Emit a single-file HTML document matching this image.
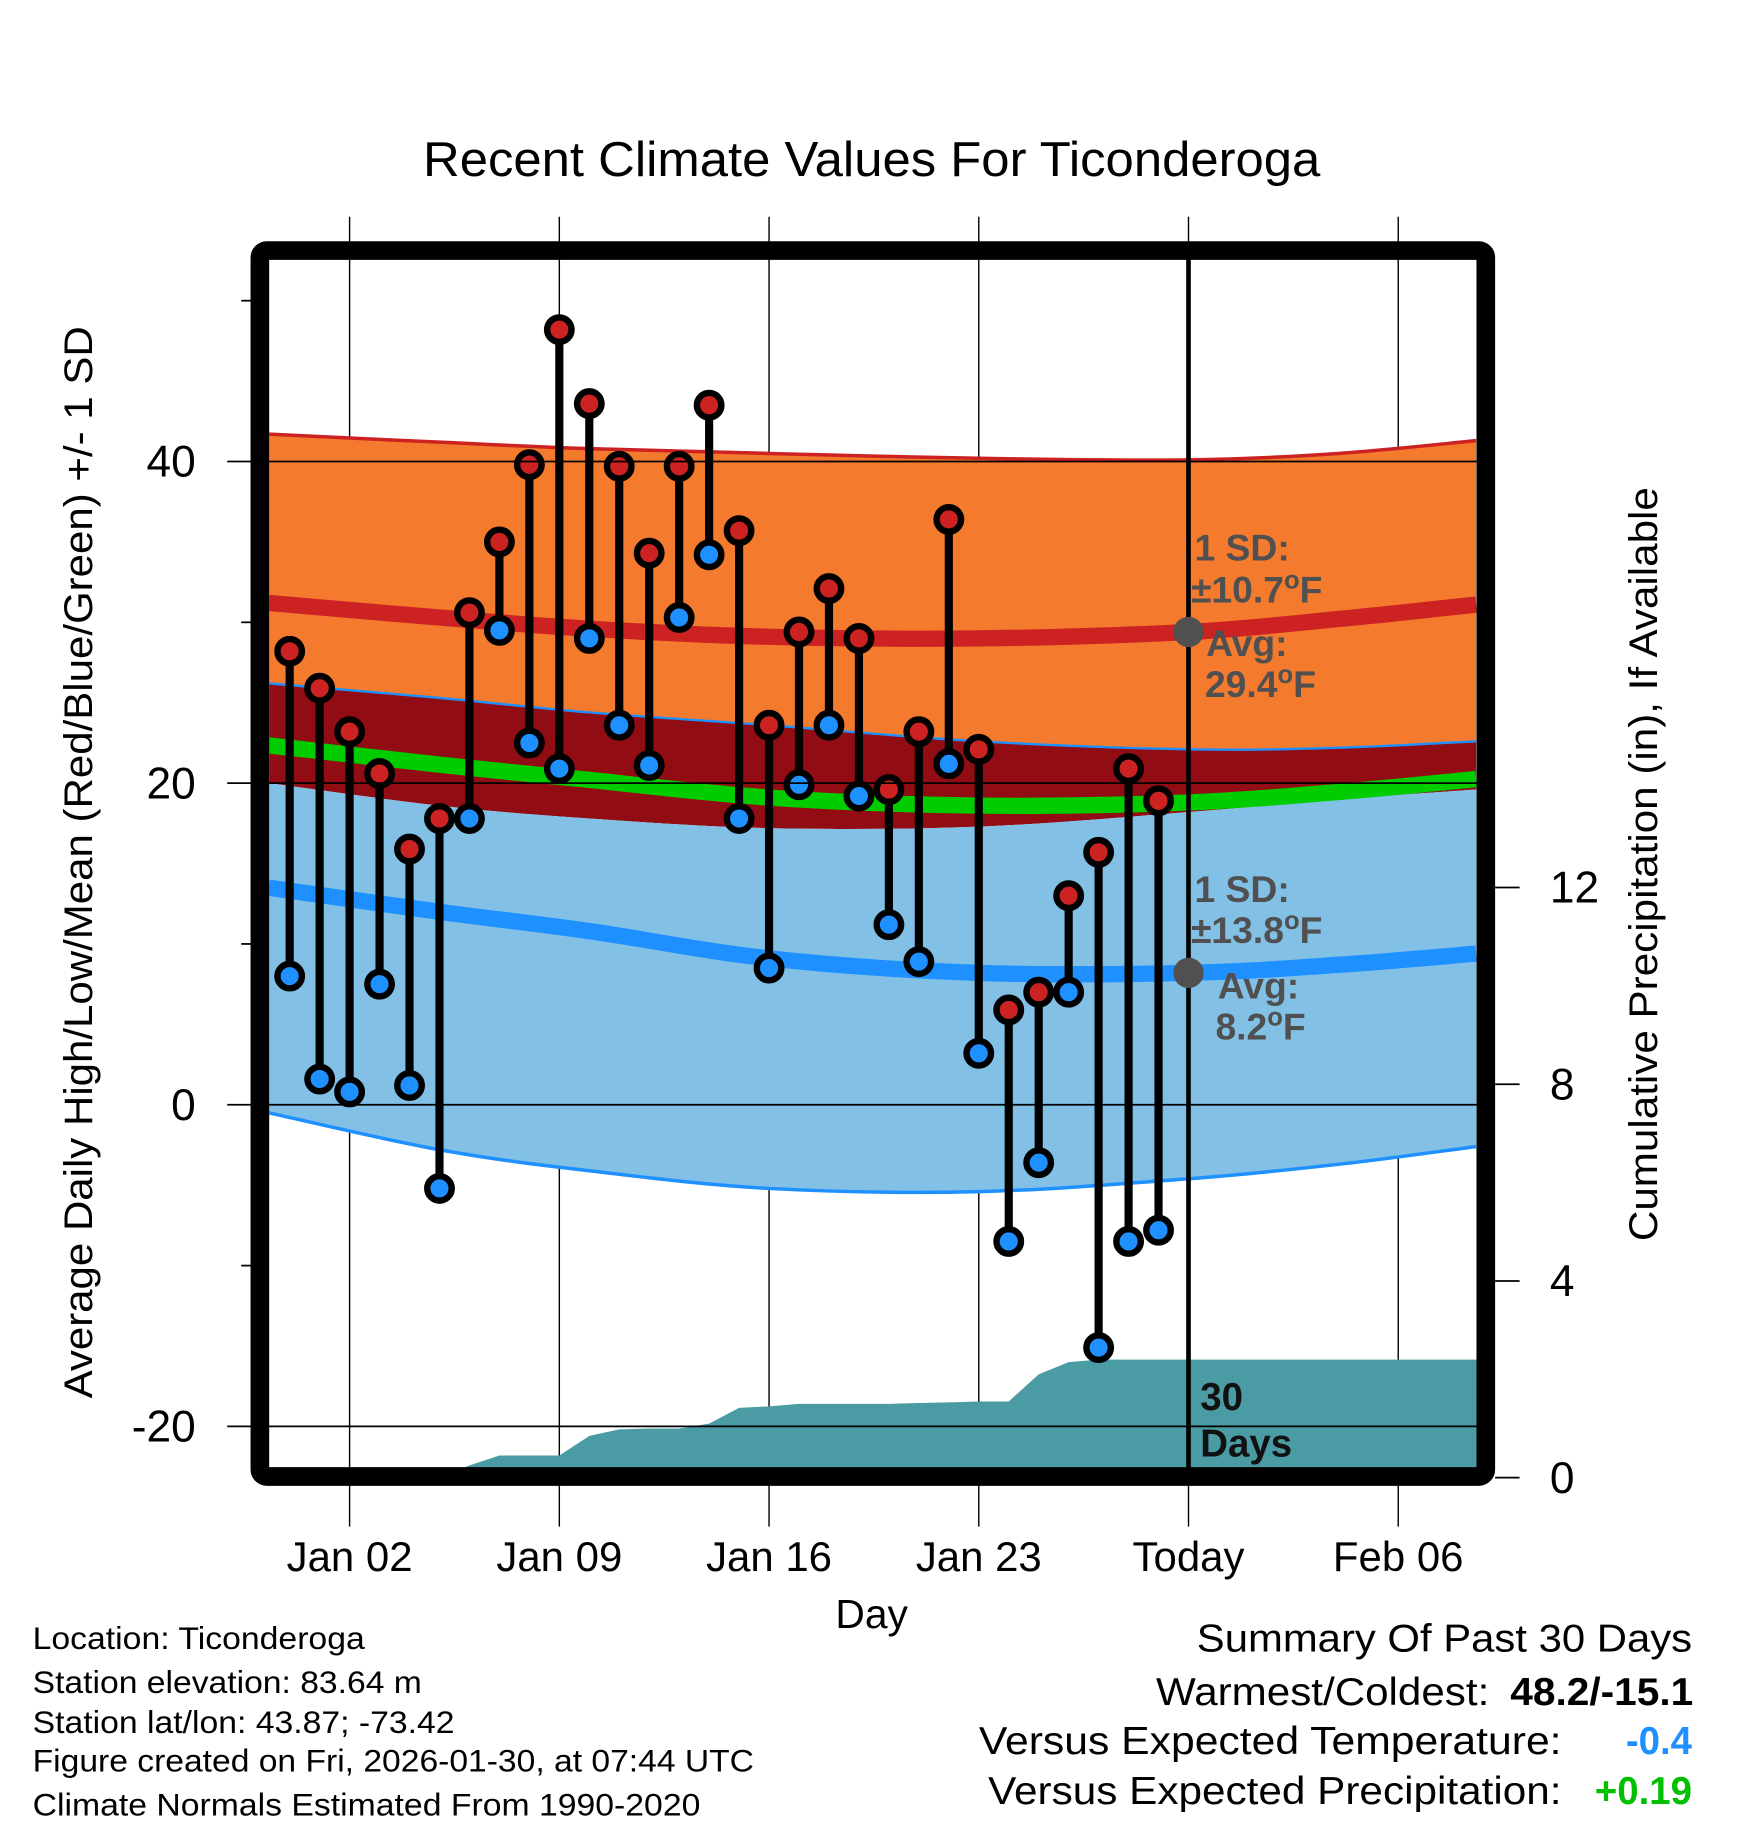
<!DOCTYPE html>
<html><head><meta charset="utf-8"><style>
html,body{margin:0;padding:0;background:#fff;}
svg{display:block;font-family:"Liberation Sans",Arial,sans-serif;}
</style></head><body>
<svg id="chart" width="1748" height="1828" viewBox="0 0 1500 1568.6" xmlns="http://www.w3.org/2000/svg">
<defs><clipPath id="plotclip"><rect x="231" y="222" width="1036" height="1038"/></clipPath></defs>
<rect width="1500" height="1568.6" fill="#fff"/>
<text x="363" y="151" font-size="42" textLength="770" lengthAdjust="spacingAndGlyphs">Recent Climate Values For Ticonderoga</text>
<g id="gx"></g>
<g id="plot" clip-path="url(#plotclip)"></g>
<g id="marks"></g>
<rect x="223" y="215" width="1052" height="1052" rx="6" fill="none" stroke="#000" stroke-width="16"/>
<g id="axes"></g>
<text transform="translate(79,1200) rotate(-90)" font-size="34" textLength="920" lengthAdjust="spacingAndGlyphs">Average Daily High/Low/Mean (Red/Blue/Green) +/- 1 SD</text>
<text transform="translate(1422,1065) rotate(-90)" font-size="34" textLength="647" lengthAdjust="spacingAndGlyphs">Cumulative Precipitation (in), If Available</text>
<text x="748" y="1397" font-size="35" text-anchor="middle">Day</text>
<g font-size="27">
<text x="28" y="1415" textLength="285" lengthAdjust="spacingAndGlyphs">Location: Ticonderoga</text>
<text x="28" y="1453" textLength="334" lengthAdjust="spacingAndGlyphs">Station elevation: 83.64 m</text>
<text x="28" y="1487" textLength="362" lengthAdjust="spacingAndGlyphs">Station lat/lon: 43.87; -73.42</text>
<text x="28" y="1520" textLength="619" lengthAdjust="spacingAndGlyphs">Figure created on Fri, 2026-01-30, at 07:44 UTC</text>
<text x="28" y="1558" textLength="573" lengthAdjust="spacingAndGlyphs">Climate Normals Estimated From 1990-2020</text>
</g>
<g font-size="33">
<text x="1027" y="1417" textLength="425" lengthAdjust="spacingAndGlyphs">Summary Of Past 30 Days</text>
<text x="992" y="1463" textLength="286" lengthAdjust="spacingAndGlyphs">Warmest/Coldest:</text>
<text x="1296" y="1463" font-weight="bold" textLength="157" lengthAdjust="spacingAndGlyphs">48.2/-15.1</text>
<text x="840" y="1505" textLength="500" lengthAdjust="spacingAndGlyphs">Versus Expected Temperature:</text>
<text x="1452" y="1505" text-anchor="end" font-weight="bold" fill="#1e90ff">-0.4</text>
<text x="848" y="1548" textLength="492" lengthAdjust="spacingAndGlyphs">Versus Expected Precipitation:</text>
<text x="1452" y="1548" text-anchor="end" font-weight="bold" fill="#00c000">+0.19</text>
</g>
</svg>
<script>
// Data: days of January (Dec 31 = 0)
const obsDays = [0,1,2,3,4,5,6,7,8,9,10,11,12,13,14,15,16,17,18,19,20,21,22,23,24,25,26,27,28,29];
const highs = [28.2,25.9,23.2,20.6,15.9,17.8,30.6,35.0,39.8,48.2,43.6,39.7,34.3,39.7,43.5,35.7,23.6,29.4,32.1,29.0,19.6,23.2,36.4,22.1,5.9,7.0,13.0,15.7,20.9,18.9];
const lows = [8.0,1.6,0.8,7.5,1.2,-5.2,17.8,29.5,22.5,20.9,29.0,23.6,21.1,30.3,34.2,17.8,8.5,19.9,23.6,19.2,11.2,8.9,21.2,3.2,-8.5,-3.6,7.0,-15.1,-8.5,-7.8];
const precipCum = [0,0,0,0,0,0,0.25,0.45,0.45,0.45,0.85,0.98,1.0,1.0,1.1,1.42,1.45,1.5,1.5,1.5,1.5,1.52,1.53,1.55,1.55,2.1,2.35,2.4,2.4,2.4];
const normDays = [-0.7,5,10,16,23,30,35,39.6];
const hiAvg = [31.2,30.3,29.6,29.1,29.0,29.4,30.2,31.1];
const hiUp = [41.7,41.2,40.8,40.5,40.2,40.1,40.5,41.3];
const hiDn = [26.2,25.3,24.4,23.6,22.6,22.1,22.2,22.6];
const loAvg = [13.5,12.0,10.8,9.1,8.2,8.2,8.7,9.4];
const loUp = [20.0,18.6,17.8,17.2,17.3,18.2,19.0,19.6];
const loDn = [-0.5,-2.8,-4.1,-5.2,-5.4,-4.6,-3.7,-2.6];
const yTicks = [40,20,0,-20];
const yMinor = [50,30,10,-10];
const y2Ticks = [0,4,8,12];
const xTickDays = [2,9,16,23,30,37];
const xTickLabels = ["Jan 02","Jan 09","Jan 16","Jan 23","Today","Feb 06"];
const todayDay = 30;

const NS="http://www.w3.org/2000/svg";
const X = d => 300 + (d-2)*25.71;
const Y = v => 948 - 13.8*v;
const Y2 = p => 1268 - 42.2*p;
function mk(parent,tag,attrs,text){const e=document.createElementNS(NS,tag);for(const k in attrs)e.setAttribute(k,attrs[k]);if(text!==undefined)e.textContent=text;parent.appendChild(e);return e;}
const plot=document.getElementById('plot'), marks=document.getElementById('marks'), axes=document.getElementById('axes'), gx=document.getElementById('gx');
// smooth curve (Catmull-Rom -> bezier) through normal points
function smooth(arr, rev){
  let pts = normDays.map((d,i)=>[X(d),Y(arr[i])]);
  if(rev) pts=pts.reverse();
  let s='';
  for(let i=0;i<pts.length-1;i++){
    const p0=pts[Math.max(0,i-1)],p1=pts[i],p2=pts[i+1],p3=pts[Math.min(pts.length-1,i+2)];
    const c1=[p1[0]+(p2[0]-p0[0])/6,p1[1]+(p2[1]-p0[1])/6];
    const c2=[p2[0]-(p3[0]-p1[0])/6,p2[1]-(p3[1]-p1[1])/6];
    if(i===0) s+=`${p1[0].toFixed(1)},${p1[1].toFixed(1)}`;
    s+=` C${c1[0].toFixed(1)},${c1[1].toFixed(1)} ${c2[0].toFixed(1)},${c2[1].toFixed(1)} ${p2[0].toFixed(1)},${p2[1].toFixed(1)}`;
  }
  return s;
}
const curve = arr => 'M'+smooth(arr,false);
const band = (a,b) => 'M'+smooth(a,false)+' L'+smooth(b,true)+'Z';

let e;
e=mk(plot,'path',{d:band(hiUp,hiDn),fill:'#f47a2e'});


e=mk(plot,'path',{d:band(hiDn,loUp),fill:'#920c13'});


e=mk(plot,'path',{d:band(loUp,loDn),fill:'#82c0e6'});


const meanArr = hiAvg.map((h,i)=>(h+loAvg[i])/2);
e=mk(plot,'path',{d:curve(meanArr),fill:'none',stroke:'#00cc00','stroke-width':14});


e=mk(plot,'path',{d:curve(hiUp),fill:'none',stroke:'#cc2222','stroke-width':3});


e=mk(plot,'path',{d:curve(hiDn),fill:'none',stroke:'#1e90ff','stroke-width':2});


e=mk(plot,'path',{d:curve(loDn),fill:'none',stroke:'#1e90ff','stroke-width':3});


e=mk(plot,'path',{d:curve(hiAvg),fill:'none',stroke:'#cc2222','stroke-width':14});


e=mk(plot,'path',{d:curve(loAvg),fill:'none',stroke:'#1e90ff','stroke-width':14});



// precip area
let pd='M'+X(-1)+','+Y2(0);
obsDays.forEach((d,i)=>{pd+='L'+X(d).toFixed(1)+','+Y2(precipCum[i]).toFixed(1);});
pd+='L'+X(41)+','+Y2(precipCum[precipCum.length-1]).toFixed(1)+'L'+X(41)+','+Y2(0)+'Z';
e=mk(plot,'path',{d:pd,fill:'#4a9ba3'});



// grid lines
yTicks.forEach(v=>{
  e=mk(axes,'line',{x1:195,x2:1267,y1:Y(v),y2:Y(v),stroke:'#000','stroke-width':1.5});
  
  
});
xTickDays.forEach(d=>{
  e=mk(gx,'line',{x1:X(d),x2:X(d),y1:186,y2:1310,stroke:'#000','stroke-width':1.2});
  
  
});
// today line
e=mk(plot,'line',{x1:X(todayDay),x2:X(todayDay),y1:222,y2:1262,stroke:'#000','stroke-width':4});



// annotations
const ann=mk(plot,'g',{fill:'#505050','font-weight':'bold','font-size':32});


const hiT=hiAvg[5], loT=loAvg[5];
e=mk(ann,'circle',{cx:X(todayDay),cy:Y(hiT),r:13,fill:'#505050'});


e=mk(ann,'circle',{cx:X(todayDay),cy:Y(loT),r:13,fill:'#505050'});


function degText(x,y,pre,post){
  const t=mk(ann,'text',{x:x,y:y});
  mk(t,'tspan',{},pre);
  mk(t,'tspan',{dy:-12,'font-size':22},'o');
  mk(t,'tspan',{dy:12},post);
}
mk(ann,'text',{x:1025,y:481},'1 SD:');
degText(1022,517,'\u00b110.7','F');
mk(ann,'text',{x:1035,y:563},'Avg:');
degText(1034,598,'29.4','F');
mk(ann,'text',{x:1025,y:774},'1 SD:');
degText(1022,809,'\u00b113.8','F');
mk(ann,'text',{x:1045,y:857},'Avg:');
degText(1043,892,'8.2','F');
e=mk(plot,'text',{x:1030,y:1210,'font-size':33,'font-weight':'bold',fill:'#111'},'30');


e=mk(plot,'text',{x:1030,y:1250,'font-size':33,'font-weight':'bold',fill:'#111'},'Days');



// stems and markers
obsDays.forEach((d,i)=>{
  const x=X(d);
  e=mk(marks,'line',{x1:x,x2:x,y1:Y(highs[i]),y2:Y(lows[i]),stroke:'#000','stroke-width':7});
  
  
  e=mk(marks,'circle',{cx:x,cy:Y(lows[i]),r:10.5,fill:'#1e90ff',stroke:'#000','stroke-width':5.5});
  
  
  e=mk(marks,'circle',{cx:x,cy:Y(highs[i]),r:10.5,fill:'#cc2222',stroke:'#000','stroke-width':5.5});
  
  
});

// axes ticks & labels
yTicks.forEach(v=>{
  e=mk(axes,'text',{x:168,y:Y(v)+13,'font-size':38,'text-anchor':'end'},String(v));
  
  
});
yMinor.forEach(v=>{
  e=mk(axes,'line',{x1:207,x2:216,y1:Y(v),y2:Y(v),stroke:'#000','stroke-width':1.5});
  
  
});
y2Ticks.forEach(p=>{
  e=mk(axes,'line',{x1:1283,x2:1304,y1:Y2(p),y2:Y2(p),stroke:'#000','stroke-width':1.5});
  
  
  e=mk(axes,'text',{x:1330,y:Y2(p)+13,'font-size':38},String(p));
  
  
});
xTickDays.forEach((d,i)=>{
  e=mk(axes,'text',{x:X(d),y:1348,'font-size':36,'text-anchor':'middle'},xTickLabels[i]);
  
  
});
</script>
</body></html>
